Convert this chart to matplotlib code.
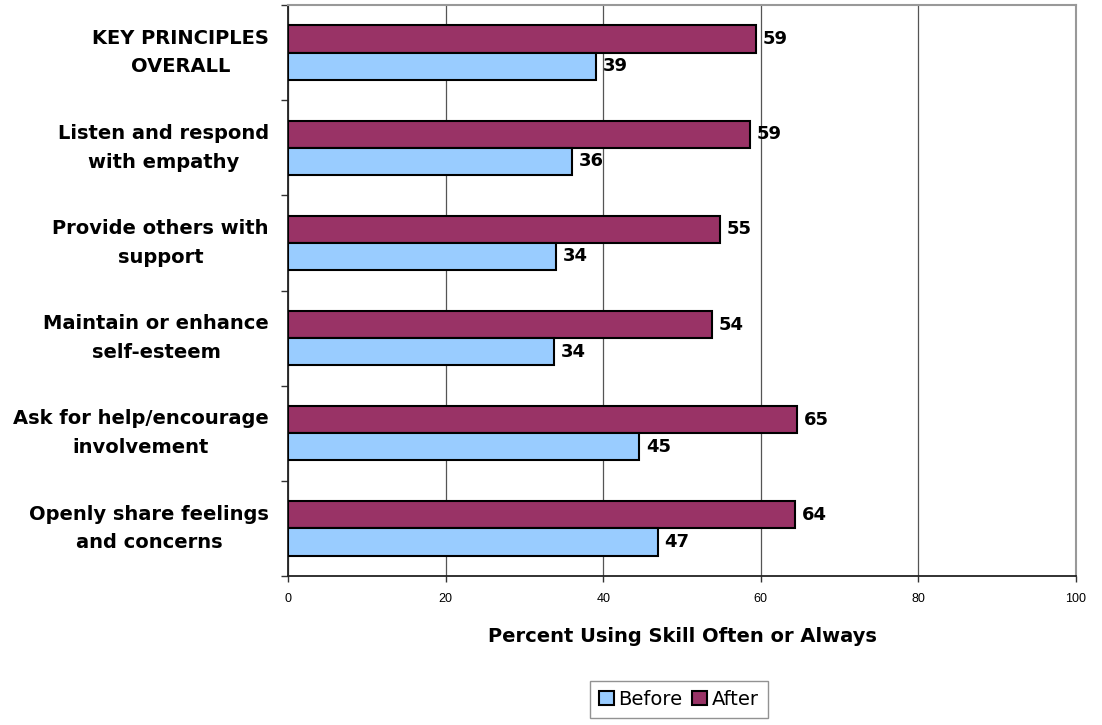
import numpy as np
import matplotlib as mpl
mpl.use("Agg")
import matplotlib.pyplot as plt

mpl.rcParams['font.family'] = ['Liberation Sans', 'DejaVu Sans']

categories = ["KEY PRINCIPLES\nOVERALL",
              "Listen and respond\nwith empathy",
              "Provide others with\nsupport",
              "Maintain or enhance\nself-esteem",
              "Ask for help/encourage\ninvolvement",
              "Openly share feelings\nand concerns"]
before = [39.1, 36.0, 34.0, 33.7, 44.6, 46.9]
after = [59.4, 58.6, 54.8, 53.8, 64.6, 64.4]

c_before = "#99CCFF"
c_after = "#993366"
wide = "DejaVu Sans"

fig = plt.figure(figsize=(11.02, 7.25), dpi=100)
ax = fig.add_axes([0.2616, 0.2055, 0.7145, 0.7876])

n = len(categories)
y = np.arange(n)
h = 0.285

b_after = ax.barh(y - h / 2, after, height=h, color=c_after, edgecolor="black", linewidth=1.5, label="After", zorder=3)
b_before = ax.barh(y + h / 2, before, height=h, color=c_before, edgecolor="black", linewidth=1.5, label="Before", zorder=3)

for bars, vals in [(b_after, after), (b_before, before)]:
    for r, v in zip(bars, vals):
        ax.text(v + 0.85, r.get_y() + r.get_height() / 2, "%d" % round(v),
                va="center", ha="left", fontsize=13, fontweight="bold",
                family=wide, zorder=4)

ax.set_xlim(0, 100)
ax.set_ylim(n - 0.5, -0.5)
ax.set_xticks([0, 20, 40, 60, 80, 100])
ax.tick_params(axis="x", labelsize=9, length=4, width=1, pad=8, color="#333333")
ax.xaxis.grid(True, color="#555555", linewidth=0.9, zorder=0)

ax.set_yticks(y)
ax.set_yticklabels(categories, fontsize=14, fontweight="bold", family=wide,
                   multialignment="center", linespacing=1.65, va="center")
ax.tick_params(axis="y", which="major", length=0, pad=14)
ax.set_yticks(np.arange(n + 1) - 0.5, minor=True)
ax.tick_params(axis="y", which="minor", length=5, width=1, color="#333333")

ax.set_xlabel("Percent Using Skill Often or Always", fontsize=14, fontweight="bold",
              family=wide, labelpad=16)

ax.spines["left"].set_color("#222222")
ax.spines["bottom"].set_color("#222222")
ax.spines["left"].set_linewidth(1.3)
ax.spines["bottom"].set_linewidth(1.3)
ax.spines["top"].set_color("#999999")
ax.spines["right"].set_color("#999999")
ax.spines["top"].set_linewidth(1.5)
ax.spines["right"].set_linewidth(1.5)

leg = fig.legend(handles=[b_before, b_after], labels=["Before", "After"],
                 loc="center", bbox_to_anchor=(679 / 1102, 1 - 699.5 / 725),
                 ncol=2, frameon=True, fancybox=False,
                 prop={"family": wide, "size": 14},
                 handlelength=0.75, handleheight=0.75, handletextpad=0.25,
                 columnspacing=0.5, borderpad=0.45, edgecolor="#777777")
leg.get_frame().set_linewidth(1.0)

fig.savefig("out.png", dpi=100)
